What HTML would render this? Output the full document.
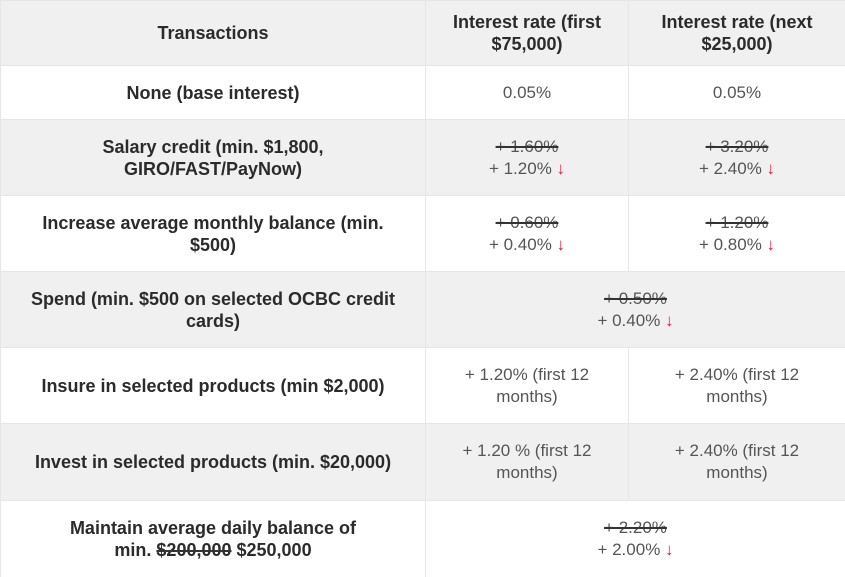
<!DOCTYPE html>
<html><head><meta charset="utf-8"><style>
html,body{margin:0;padding:0;background:#fff;width:845px;height:577px;overflow:hidden}
table{border-collapse:collapse;table-layout:fixed;width:845px;font-family:"Liberation Sans",sans-serif;color:#333}
td,th{border:1px solid #e6e6e6;text-align:center;vertical-align:middle;padding:0 8px;line-height:22px;white-space:nowrap}
th,td.l{font-weight:bold;font-size:18px;color:#2b2b2b}
td.v{font-size:17px;color:#555}
tr.g{background:#f0f0f0}
s{text-decoration-thickness:2px;text-decoration-color:#333}
.dn{color:#e8173a}
</style></head><body>
<table>
<colgroup><col style="width:425px"><col style="width:203px"><col style="width:217px"></colgroup>
<tr class="g" style="height:65px">
<th>Transactions</th>
<th>Interest rate (first<br>$75,000)</th>
<th>Interest rate (next<br>$25,000)</th></tr>
<tr style="height:54px">
<td class="l">None (base interest)</td><td class="v">0.05%</td><td class="v">0.05%</td></tr>
<tr class="g" style="height:76px">
<td class="l">Salary credit (min. $1,800,<br>GIRO/FAST/PayNow)</td>
<td class="v"><s>+ 1.60%</s><br>+ 1.20% <span class="dn">↓</span></td>
<td class="v"><s>+ 3.20%</s><br>+ 2.40% <span class="dn">↓</span></td></tr>
<tr style="height:76px">
<td class="l">Increase average monthly balance (min.<br>$500)</td>
<td class="v"><s>+ 0.60%</s><br>+ 0.40% <span class="dn">↓</span></td>
<td class="v"><s>+ 1.20%</s><br>+ 0.80% <span class="dn">↓</span></td></tr>
<tr class="g" style="height:76px">
<td class="l">Spend (min. $500 on selected OCBC credit<br>cards)</td>
<td class="v" colspan="2"><s>+ 0.50%</s><br>+ 0.40% <span class="dn">↓</span></td></tr>
<tr style="height:76px">
<td class="l">Insure in selected products (min $2,000)</td>
<td class="v">+ 1.20% (first 12<br>months)</td><td class="v">+ 2.40% (first 12<br>months)</td></tr>
<tr class="g" style="height:77px">
<td class="l">Invest in selected products (min. $20,000)</td>
<td class="v">+ 1.20 % (first 12<br>months)</td><td class="v">+ 2.40% (first 12<br>months)</td></tr>
<tr style="height:77px">
<td class="l">Maintain average daily balance of<br>min. <s>$200,000</s> $250,000</td>
<td class="v" colspan="2"><s>+ 2.20%</s><br>+ 2.00% <span class="dn">↓</span></td></tr>
</table>
</body></html>
